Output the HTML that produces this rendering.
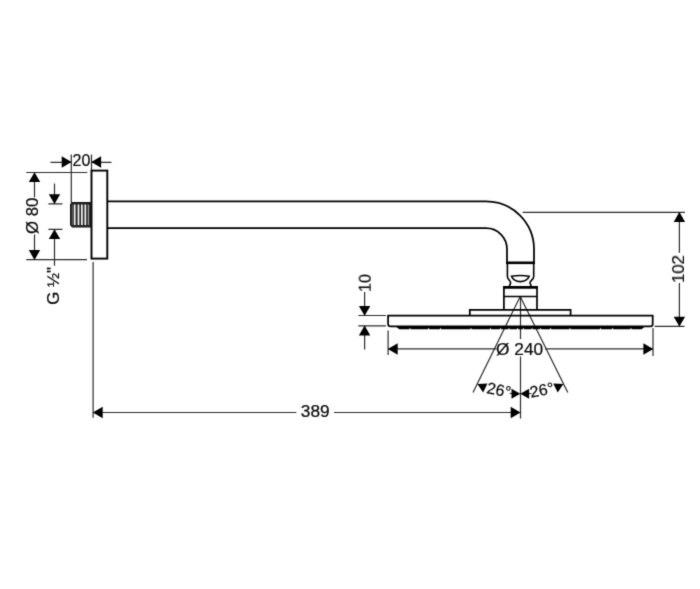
<!DOCTYPE html>
<html><head><meta charset="utf-8"><title>Drawing</title>
<style>
html,body{margin:0;padding:0;background:#fff;}
body{width:700px;height:589px;overflow:hidden;}
svg{display:block;}
text{font-family:"Liberation Sans",sans-serif;font-size:16px;fill:#0a0a0a;stroke:#0a0a0a;stroke-width:0.22px;}
</style></head><body>
<svg width="700" height="589" viewBox="0 0 700 589">
<rect width="700" height="589" fill="#fff"/>
<g filter="url(#bl)">
<rect width="700" height="589" fill="#fff"/>
<defs>
<filter id="bl" color-interpolation-filters="sRGB" x="0" y="0" width="700" height="589" filterUnits="userSpaceOnUse"><feConvolveMatrix order="3" kernelMatrix="0.01690 0.09620 0.01690 0.09620 0.54760 0.09620 0.01690 0.09620 0.01690" divisor="1" edgeMode="duplicate" preserveAlpha="true"/></filter>
<path id="ah" d="M0.2 0 L-9.6 -5.7 L-9.6 5.7 Z" fill="#000"/>
<path id="as" d="M0 0 L-8.8 -5 L-8.8 5 Z" fill="#000"/>
</defs>

<!-- thin dimension lines -->
<g stroke="#2c2c2c" stroke-width="1.2" fill="none">
<!-- 20 -->
<path d="M50.5 162.3H71.3M91.5 162.3H111.5"/>
<path d="M71.3 154.5V203M91.5 154.5V170"/>
<!-- Ø80 -->
<path d="M26.3 172.5H87.3M26.3 259.7H87"/>
<path d="M34.5 172.5V197.3M34.5 234.6V259.7"/>
<!-- G1/2 -->
<path d="M54.5 183.5V203.8M54.5 229.4V265.8"/>
<path d="M48.4 203.9H62.4M48.4 229.4H62.4"/>
<!-- 389 -->
<path d="M93.1 262V417.7"/>
<path d="M93.1 412.5H296.4M334 412.5H520.3"/>
<!-- center line -->
<path d="M520.5 296.4V339M520.5 356.5V418.4"/>
<!-- Ø240 -->
<path d="M388.1 330.5V355M653 328V356"/>
<path d="M388.1 348.9H496.4M545 348.9H653"/>
<!-- 10 -->
<path d="M358.3 315.5H385.9M358.3 325.8H385.9"/>
<path d="M364.6 292V315.5M364.6 325.8V349.5"/>
<!-- 102 -->
<path d="M522.6 212.3H684.9M654.6 326.3H684.5"/>
<path d="M679.4 212.3V252.7M679.4 283V326.3"/>
<!-- cone -->
<path d="M509.6 393.5H512M529 393.5H531.4"/>
<path d="M520.2 296.4L473 392.5M520.2 296.4L567.8 392.5"/>
</g>

<!-- arrowheads -->
<g>
<use href="#ah" transform="translate(71.3 162)"/>
<use href="#ah" transform="translate(91.5 162) rotate(180)"/>
<use href="#ah" transform="translate(34.5 172.5) rotate(-90)"/>
<use href="#ah" transform="translate(34.5 259.7) rotate(90)"/>
<use href="#ah" transform="translate(54.5 203.9) rotate(90)"/>
<use href="#ah" transform="translate(54.5 229.4) rotate(-90)"/>
<use href="#ah" transform="translate(93.1 412.5) rotate(180)"/>
<use href="#ah" transform="translate(520.3 412.5)"/>
<use href="#ah" transform="translate(388.1 349) rotate(180)"/>
<use href="#ah" transform="translate(653 349)"/>
<use href="#ah" transform="translate(364.6 315.5) rotate(90)"/>
<use href="#ah" transform="translate(364.6 325.8) rotate(-90)"/>
<use href="#ah" transform="translate(679.4 212.3) rotate(-90)"/>
<use href="#ah" transform="translate(679.4 326.3) rotate(90)"/>
<!-- angle arrows -->
<use href="#as" transform="translate(520.3 393.8)"/>
<use href="#as" transform="translate(520.3 393.8) rotate(180)"/>
<use href="#as" transform="translate(477.4 384.1) rotate(206)"/>
<use href="#as" transform="translate(563.4 384.1) rotate(-26)"/>
</g>

<!-- object outline -->
<g stroke="#000" stroke-width="1.75" fill="none" stroke-linejoin="miter">
<rect x="91.5" y="170.6" width="15.8" height="88" fill="#fff" stroke-width="1.9"/>
<path d="M107.3 201.3H486A48 48 0 0 1 534 249.3V263"/>
<path d="M107.3 228.2H486A21 21 0 0 1 507 249.2V263"/>
<path d="M506 262.8H535" stroke-width="2.6"/>
<path d="M507.4 263V276.5C507.4 279.5 510.6 280.5 510.6 282.8C510.6 284 509.6 284.8 509.4 286.4" stroke-width="1.6"/>
<path d="M533.7 263V276.5C533.7 279.5 530 280.5 530 282.8C530 284 531 284.8 531.2 286.4" stroke-width="1.6"/>
<path d="M511.5 276.3Q520.3 274.6 529.2 276.3Q527 281.6 520.3 281.6Q513.6 281.6 511.5 276.3Z" stroke-width="1.6"/>
<path d="M503 287.4H538" stroke-width="2.6"/>
<path d="M503.9 287V310M537 287V310" stroke-width="1.7"/>
<path d="M503.9 296.6H537" stroke-width="1.5"/>
<path d="M469.8 315.6V309.8H570.6V315.6"/>
<path d="M388.1 315.5H652.7V324.2Q652.7 326.3 650.2 326.3H390.6Q388.1 326.3 388.1 324.2Z"/>
<path d="M395.5 326.3L399.3 329.25H641.5L645.3 326.3Z" fill="#000" stroke="none"/>
<path d="M516.5 329.7L517.5 327.7L518.5 329.7ZM522.5 329.7L523.5 327.7L524.5 329.7ZM508.0 329.7L509.0 327.7L510.0 329.7ZM531.0 329.7L532.0 327.7L533.0 329.7ZM499.5 329.7L500.5 327.7L501.5 329.7ZM539.5 329.7L540.5 327.7L541.5 329.7ZM489.5 329.7L490.5 327.7L491.5 329.7ZM549.5 329.7L550.5 327.7L551.5 329.7ZM470.0 329.7L471.0 327.7L472.0 329.7ZM569.0 329.7L570.0 327.7L571.0 329.7ZM439.5 329.7L440.5 327.7L441.5 329.7ZM599.5 329.7L600.5 327.7L601.5 329.7ZM427.5 329.7L428.5 327.7L429.5 329.7ZM611.5 329.7L612.5 327.7L613.5 329.7ZM409.0 329.7L410.0 327.7L411.0 329.7ZM630.0 329.7L631.0 327.7L632.0 329.7Z" fill="#fff" stroke="none"/>
</g>

<!-- thread -->
<g>
<path d="M72.3 202.7H91V226.8H72.3L70.6 224.8V204.7Z" fill="#262626" stroke="#111" stroke-width="1.2" stroke-linejoin="round"/>
<path d="M74.7 204.6V225M78.5 204.6V225M81.9 204.6V225M85.3 204.6V225" stroke="#f4f4f4" stroke-width="1.7"/>
<path d="M88.4 204.6V225" stroke="#9a9a9a" stroke-width="1.3"/>
<path d="M72.3 204.8V224.8" stroke="#6a6a6a" stroke-width="0.9"/>
</g>

<!-- text -->
<g opacity="0.999">
<text x="81.5" y="166" text-anchor="middle">20</text>
<text transform="translate(37.9 215.8) rotate(-90) scale(1.05 1)" text-anchor="middle">Ø 80</text>
<text transform="translate(58.6 285.8) rotate(-90) scale(1.05 1)" text-anchor="middle">G ½"</text>
<text transform="translate(315.2 417.3) scale(1.08 1)" text-anchor="middle">389</text>
<text transform="translate(519.6 355) scale(1.08 1)" text-anchor="middle">Ø 240</text>
<text transform="translate(370.7 283) rotate(-90)" text-anchor="middle">10</text>
<text transform="translate(684 269) rotate(-90) scale(1.05 1)" text-anchor="middle">102</text>
<text transform="translate(499 389.8) rotate(11)" text-anchor="middle" dy="5.7">26°</text>
<text transform="translate(541.9 389.8) rotate(-11)" text-anchor="middle" dy="5.7">26°</text>
</g>
</g>
</svg>
</body></html>
